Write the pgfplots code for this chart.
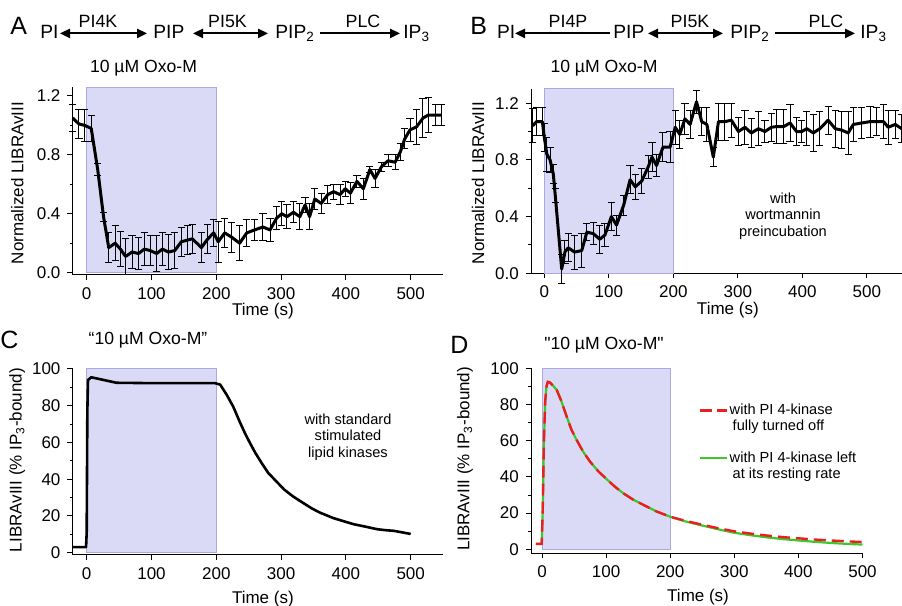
\documentclass[border=0pt]{standalone}
\usepackage{fontspec}
\setmainfont{Liberation Sans}
\usepackage{pgfplots}
\usepackage{pgfplotstable}
\pgfplotsset{compat=1.18}
\usetikzlibrary{arrows.meta}

\definecolor{boxfill}{RGB}{218,218,247}
\definecolor{boxline}{RGB}{170,170,225}
\definecolor{simred}{RGB}{235,30,35}
\definecolor{simgreen}{RGB}{60,200,40}

\newcommand{\tk}{\fontsize{8.5}{10}\selectfont}
\newcommand{\an}{\fontsize{7.3}{8.2}\selectfont}
\newcommand{\pw}{\fontsize{9.6}{11}\selectfont}
\newcommand{\enz}{\fontsize{8.9}{10}\selectfont}

% panel A: measured, wild type
\pgfplotstableread{
x y e
-21.6 1.05 0.09
-12 1.01 0.10
-3 1.00 0.11
7 0.98 0.09
17 0.70 0.04
26 0.38 0.03
34 0.17 0.10
44 0.20 0.12
52 0.16 0.12
60 0.11 0.12
70 0.14 0.11
80 0.13 0.11
89 0.16 0.11
98 0.15 0.10
108 0.13 0.12
117 0.16 0.11
126 0.14 0.12
136 0.15 0.12
146 0.21 0.10
155 0.22 0.10
163 0.23 0.10
177 0.17 0.10
187 0.23 0.10
196 0.27 0.09
203 0.21 0.14
213 0.27 0.10
224 0.24 0.10
236 0.20 0.12
247 0.27 0.09
259 0.29 0.07
272 0.31 0.09
283 0.29 0.08
293 0.37 0.08
301 0.40 0.08
309 0.38 0.08
319 0.41 0.07
329 0.38 0.09
337 0.46 0.05
344 0.38 0.09
352 0.50 0.07
362 0.47 0.07
372 0.53 0.06
381 0.55 0.05
391 0.53 0.07
399 0.57 0.05
407 0.54 0.07
417 0.62 0.04
427 0.57 0.07
437 0.70 0.02
445 0.64 0.06
455 0.72 0.03
465 0.76 0.04
476 0.75 0.05
484 0.82 0.06
491 0.91 0.07
499 0.97 0.08
509 0.99 0.12
519 1.05 0.13
527 1.07 0.12
538 1.07 0.07
548 1.07 0.07
}\dataA

% panel B: measured, wortmannin
\pgfplotstableread{
x y e
-18 1.04 0.12
-12 1.07 0.10
-3 1.07 0.10
0 0.96 0.10
4 0.84 0.12
9 0.80 0.09
14 0.70 0.07
17 0.55 0.05
27 0.03 0.10
32 0.15 0.08
37 0.18 0.10
47 0.15 0.12
58 0.16 0.12
66 0.29 0.06
76 0.28 0.08
86 0.24 0.10
94 0.27 0.08
104 0.40 0.10
112 0.34 0.07
123 0.48 0.07
133 0.66 0.10
141 0.61 0.09
151 0.65 0.09
161 0.75 0.08
167 0.82 0.10
174 0.76 0.08
184 0.89 0.10
195 0.89 0.11
203 1.03 0.12
210 0.98 0.10
218 1.09 0.11
226 1.05 0.10
236 1.21 0.08
244 1.07 0.10
252 1.05 0.12
262 0.82 0.07
270 1.07 0.13
280 1.07 0.13
290 1.08 0.12
301 1.00 0.10
311 1.03 0.12
321 0.99 0.10
332 1.02 0.12
342 1.00 0.08
352 1.03 0.10
360 1.035 0.12
371 1.035 0.12
381 1.06 0.13
391 1.00 0.10
399 1.00 0.08
407 1.02 0.12
417 0.99 0.13
427 1.02 0.12
440 1.08 0.10
451 1.02 0.13
461 1.01 0.13
471 0.99 0.15
479 1.05 0.12
492 1.06 0.11
505 1.07 0.11
515 1.07 0.10
526 1.07 0.12
533 1.03 0.12
544 1.05 0.10
554 1.02 0.10
}\dataB

% panel C: model, standard kinases
\pgfplotstableread{
x y
-21.6 3
-1 3
0 11
1 77
2 94
7 95.5
20 94.5
46 92.5
100 92.3
198 92.3
206 91.5
216 86
226 79.6
237 70.6
245 64.5
252 59.7
260 54.5
270 48.8
280 43.5
293 38.7
305 34.3
319 30.5
330 28
347 24.2
360 21.8
381 18.8
395 17.3
412 15.5
430 14.2
448 12.8
460 12.3
474 11.9
488 11
500 10.2
}\dataC

% panel D: model, PI 4-kinase left at resting rate
\pgfplotstableread{
x y
-9.4 3
-0.5 3
1 20
3 60
5 82
7 90
9 92.5
12 92.2
17 90.5
23 88
30 82
38.5 73.3
46 66
54 60.4
64 54
75 48.4
88 43
101 38.7
114 34.5
127 30.9
142 27.5
158.5 24.5
178 21
200 18
223 15.5
247 13.4
273 11.2
299 9.2
325 7.8
351 6.6
377 5.6
403 4.8
430 4
460 3.3
500 2.6
}\dataDg

% panel D: model, PI 4-kinase turned off
\pgfplotstableread{
x y
-9.4 3
-0.5 3
1 20
3 60
5 82
7 90
9 92.5
12 92.2
17 90.5
23 88
30 82
38.5 73.3
46 66
54 60.4
64 54
75 48.4
88 43
101 38.7
114 34.5
127 30.9
142 27.5
158.5 24.5
178 21
200 18
223 15.8
247 13.8
273 11.8
299 10
325 8.7
351 7.6
377 6.7
403 6
430 5.3
460 4.7
500 4
}\dataDr

\pgfplotsset{
  igor/.style={
    scale only axis, anchor=south west, clip=false,
    axis x line*=bottom, axis y line*=left,
    axis line style={line width=0.5pt, -},
    tick align=outside,
    major tick length=2.6pt, minor tick length=1.5pt,
    every tick/.style={black, line width=0.5pt},
    ticklabel style={font=\tk},
    /pgf/number format/assume math mode=true,
    xtick={0,100,...,500},
  },
  trace/.style={black, line width=1.5pt, line join=round,
    error bars/.cd, y dir=both, y explicit,
    error bar style={line width=0.5pt, black},
    error mark options={rotate=90, line width=0.5pt, mark size=1.8pt, black}},
  oxo/.style={forget plot, draw=boxline, fill=boxfill, line width=0.5pt},
}

\begin{document}
\begin{tikzpicture}
\path[use as bounding box] (0,0) rectangle (451pt,303pt);

% ---------------- A ----------------
\begin{axis}[igor,
  at={(36.35pt,165.5pt)}, width=185pt, height=93.85pt,
  xmin=-21.6, xmax=549.4, ymin=-0.016, ymax=1.259,
  ytick={0,0.4,0.8,1.2}, yticklabels={0.0,0.4,0.8,1.2},
  minor ytick={0.2,0.6,1.0},
  xlabel={Time (s)}, ylabel={Normalized LIBRAvIII},
  every axis x label/.style={at={(axis description cs:0.514,-0.19)}, anchor=center, font=\tk},
  every axis y label/.style={at={(axis description cs:-0.15,0.49)}, rotate=90, anchor=center, font=\tk},
]
\addplot[oxo] coordinates {(0,0) (200,0) (200,1.259) (0,1.259)} -- cycle;
\addplot[trace] table[x=x, y=y, y error=e] {\dataA};
\end{axis}

% ---------------- B ----------------
\begin{axis}[igor,
  at={(265.5pt,166.35pt)}, width=185.35pt, height=92.15pt,
  xmin=-20.6, xmax=554, ymin=0, ymax=1.30,
  ytick={0,0.4,0.8,1.2}, yticklabels={0.0,0.4,0.8,1.2},
  minor ytick={0.2,0.6,1.0},
  xlabel={Time (s)}, ylabel={Normalized LIBRAvIII},
  every axis x label/.style={at={(axis description cs:0.531,-0.2)}, anchor=center, font=\tk},
  every axis y label/.style={at={(axis description cs:-0.143,0.49)}, rotate=90, anchor=center, font=\tk},
]
\addplot[oxo] coordinates {(0,0) (200,0) (200,1.30) (0,1.30)} -- cycle;
\addplot[trace] table[x=x, y=y, y error=e] {\dataB};
\end{axis}

% ---------------- C ----------------
\begin{axis}[igor,
  at={(36.35pt,25.5pt)}, width=185pt, height=93pt,
  xmin=-21.6, xmax=549.4, ymin=-1.25, ymax=100,
  ytick={0,20,...,100}, minor ytick={10,30,...,90},
  xlabel={Time (s)}, ylabel={LIBRAvIII (\% IP\textsubscript{3}-bound)},
  every axis x label/.style={at={(axis description cs:0.514,-0.237)}, anchor=center, font=\tk},
  every axis y label/.style={at={(axis description cs:-0.15,0.51)}, rotate=90, anchor=center, font=\tk},
]
\addplot[oxo] coordinates {(0,0) (200,0) (200,100) (0,100)} -- cycle;
\addplot[black, line width=1.3pt, line join=round] table[x=x, y=y] {\dataC};
\end{axis}

% ---------------- D ----------------
\begin{axis}[igor,
  at={(265.5pt,26.35pt)}, width=165.75pt, height=92.5pt,
  xmin=-17.2, xmax=500, ymin=-2.2, ymax=100,
  ytick={0,20,...,100}, minor ytick={10,30,...,90},
  xlabel={Time (s)}, ylabel={LIBRAvIII (\% IP\textsubscript{3}-bound)},
  every axis x label/.style={at={(axis description cs:0.504,-0.235)}, anchor=center, font=\tk},
  every axis y label/.style={at={(axis description cs:-0.199,0.51)}, rotate=90, anchor=center, font=\tk},
  legend style={draw=none, fill=none, inner sep=0pt, font=\an,
    at={(axis description cs:0.506,0.818)}, anchor=north west, row sep=0pt,
    nodes={inner sep=0.6pt, text height=5.3pt, text depth=1.5pt}},
  legend cell align=left,
  legend image code/.code={\draw[#1] (0pt,0pt) -- (13.5pt,0pt);},
]
\addplot[oxo] coordinates {(0,0) (200,0) (200,100) (0,100)} -- cycle;
\addplot[forget plot, simgreen, line width=1.1pt] table[x=x, y=y] {\dataDg};
\addplot[forget plot, simred, line width=1.2pt, dash pattern=on 6pt off 3pt] table[x=x, y=y] {\dataDr};
\addlegendimage{simred, line width=1.2pt, dash pattern=on 6pt off 2.5pt}
\addlegendentry{with PI 4-kinase}
\addlegendimage{empty legend}
\addlegendentry{\hspace{1.5pt}fully turned off}
\addlegendimage{empty legend}
\addlegendentry{}
\addlegendimage{simgreen, line width=1.1pt}
\addlegendentry{with PI 4-kinase left}
\addlegendimage{empty legend}
\addlegendentry{\hspace{1.5pt}at its resting rate}
\end{axis}

% ---------------- titles, letters, notes ----------------
\node[font=\fontsize{8.8}{10}\selectfont] at (71.75pt,269pt) {10 µM Oxo-M};
\node[font=\fontsize{8.8}{10}\selectfont] at (302pt,269pt) {10 µM Oxo-M};
\node[font=\fontsize{8.8}{10}\selectfont] at (74pt,133pt) {“10 µM Oxo-M”};
\node[font=\fontsize{8.8}{10}\selectfont] at (302pt,130.5pt) {\textquotedbl 10 µM Oxo-M\textquotedbl};

\node[font=\fontsize{12.5}{14}\selectfont, anchor=base west, inner sep=0pt] at (5pt,285.5pt) {A};
\node[font=\fontsize{12.5}{14}\selectfont, anchor=base west, inner sep=0pt] at (235pt,285.5pt) {B};
\node[font=\fontsize{12.5}{14}\selectfont, anchor=base west, inner sep=0pt] at (0pt,128.8pt) {C};
\node[font=\fontsize{12.5}{14}\selectfont, anchor=base west, inner sep=0pt] at (225pt,126.3pt) {D};

\node[font=\an, align=center] at (391.5pt,195pt) {with\\wortmannin\\preincubation};
\node[font=\an, align=center] at (174pt,84.5pt) {with standard\\stimulated\\lipid kinases};

% pathway A
\tikzset{pa/.style={line width=0.9pt}, tip/.tip={Triangle[length=5pt,width=4.6pt]}}
\begin{scope}[every node/.style={inner sep=0pt}]
\node[font=\pw, anchor=base west] at (20pt,283.8pt) {PI};
\draw[pa, tip-tip] (30pt,286.3pt) -- (73.5pt,286.3pt);
\node[font=\enz, anchor=base] at (49pt,289.3pt) {PI4K};
\node[font=\pw, anchor=base west] at (76.5pt,283.8pt) {PIP};
\draw[pa, tip-tip] (96.5pt,286.3pt) -- (134pt,286.3pt);
\node[font=\enz, anchor=base] at (113.75pt,289.3pt) {PI5K};
\node[font=\pw, anchor=base west] at (137.5pt,283.8pt) {PIP\textsubscript{2}};
\draw[pa, -tip] (160pt,286.3pt) -- (200pt,286.3pt);
\node[font=\enz, anchor=base] at (181.5pt,289.3pt) {PLC};
\node[font=\pw, anchor=base west] at (201.5pt,283.8pt) {IP\textsubscript{3}};
% pathway B
\node[font=\pw, anchor=base west] at (248.3pt,283.8pt) {PI};
\draw[pa, tip-] (257.5pt,286.3pt) -- (305pt,286.3pt);
\node[font=\enz, anchor=base] at (284pt,289.3pt) {PI4P};
\node[font=\pw, anchor=base west] at (306.5pt,283.8pt) {PIP};
\draw[pa, tip-tip] (324pt,286.3pt) -- (361.5pt,286.3pt);
\node[font=\enz, anchor=base] at (345pt,289.3pt) {PI5K};
\node[font=\pw, anchor=base west] at (365pt,283.8pt) {PIP\textsubscript{2}};
\draw[pa, -tip] (387.5pt,286.3pt) -- (427.5pt,286.3pt);
\node[font=\enz, anchor=base] at (413pt,289.3pt) {PLC};
\node[font=\pw, anchor=base west] at (430pt,283.8pt) {IP\textsubscript{3}};
\end{scope}
\end{tikzpicture}
\end{document}
